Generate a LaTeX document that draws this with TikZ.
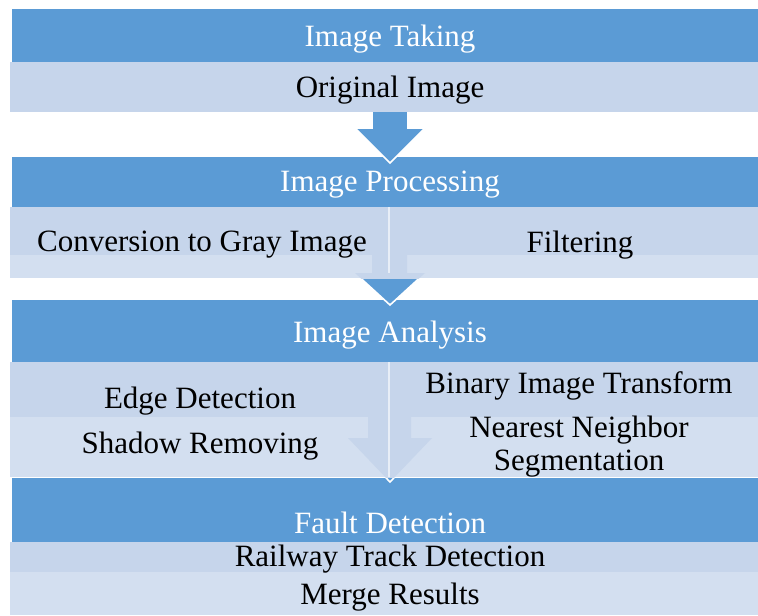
\documentclass[tikz,border=0pt]{standalone}
\usepackage{fontspec}
\setmainfont{Liberation Serif}
\definecolor{headblue}{HTML}{5B9BD5}
\definecolor{bandtop}{HTML}{C6D5EB}
\definecolor{bandlow}{HTML}{D3DFF0}
\tikzset{
  headtext/.style={text=white, font=\fontsize{15.5}{16.5}\selectfont},
  itemtext/.style={text=black, font=\fontsize{15.5}{16.5}\selectfont, align=center},
  flowarrow/.style={fill=headblue, draw=white, line width=0.8pt, line join=miter},
}
\begin{document}
\begin{tikzpicture}[x=0.5pt,y=-0.5pt]
    \useasboundingbox (0,0) rectangle (758,615);

    % header bars
    \fill[headblue] (12,9) rectangle (758,62);
    \fill[headblue] (12,157) rectangle (758,207);
    \fill[headblue] (12,300) rectangle (758,362);
    \fill[headblue] (12,478) rectangle (758,542);

    % block arrows between the stages
    \path[flowarrow] (372,105) -- (408,105) -- (408,128) -- (425,128) -- (390,163) -- (355,128) -- (372,128) -- cycle;
    \path[flowarrow] (372,250) -- (407,250) -- (407,273) -- (425,273) -- (390,305) -- (355,273) -- (372,273) -- cycle;
    \path[flowarrow] (368,410) -- (411,410) -- (411,438) -- (432,438) -- (390,482) -- (348,438) -- (368,438) -- cycle;

    % light bands
    \fill[bandtop] (10,62) rectangle (758,112);

    \fill[bandlow] (10,207) rectangle (758,278);
    \fill[bandtop] (10,207) rectangle (758,255);
    \begin{scope}
        \clip (10,207) rectangle (758,278);
        \fill[bandtop] (372,250) -- (407,250) -- (407,273) -- (425,273) -- (390,305) -- (355,273) -- (372,273) -- cycle;
    \end{scope}
    \draw[white, opacity=0.6, line width=0.8pt] (389,207) -- (389,273);

    \fill[bandlow] (10,362) rectangle (758,477);
    \fill[bandtop] (10,362) rectangle (758,417);
    \begin{scope}
        \clip (10,362) rectangle (758,477);
        \fill[bandtop] (368,410) -- (411,410) -- (411,438) -- (432,438) -- (390,482) -- (348,438) -- (368,438) -- cycle;
    \end{scope}
    \draw[white, opacity=0.6, line width=0.8pt] (389,362) -- (389,477);

    \fill[bandtop] (10,542) rectangle (758,572);
    \fill[bandlow] (10,572) rectangle (758,615);

    % texts
    \node[headtext] (taking) at (390,39) {Image Taking};
    \node[itemtext] (original) at (390,90) {Original Image};

    \node[headtext] (processing) at (390,185) {Image Processing};
    \node[itemtext] (gray) at (202,245) {Conversion to Gray Image};
    \node[itemtext] (filtering) at (580,245) {Filtering};

    \node[headtext] (analysis) at (390,335) {Image Analysis};
    \node[itemtext] (edge) at (200,401) {Edge Detection};
    \node[itemtext] (shadow) at (200,446) {Shadow Removing};
    \node[itemtext] (binary) at (579,386) {Binary Image Transform};
    \node[itemtext] (nearest) at (579,447) {Nearest Neighbor\\Segmentation};

    \node[headtext] (fault) at (390,523) {Fault Detection};
    \node[itemtext] (railway) at (390,559) {Railway Track Detection};
    \node[itemtext] (merge) at (390,597) {Merge Results};
\end{tikzpicture}
\end{document}
